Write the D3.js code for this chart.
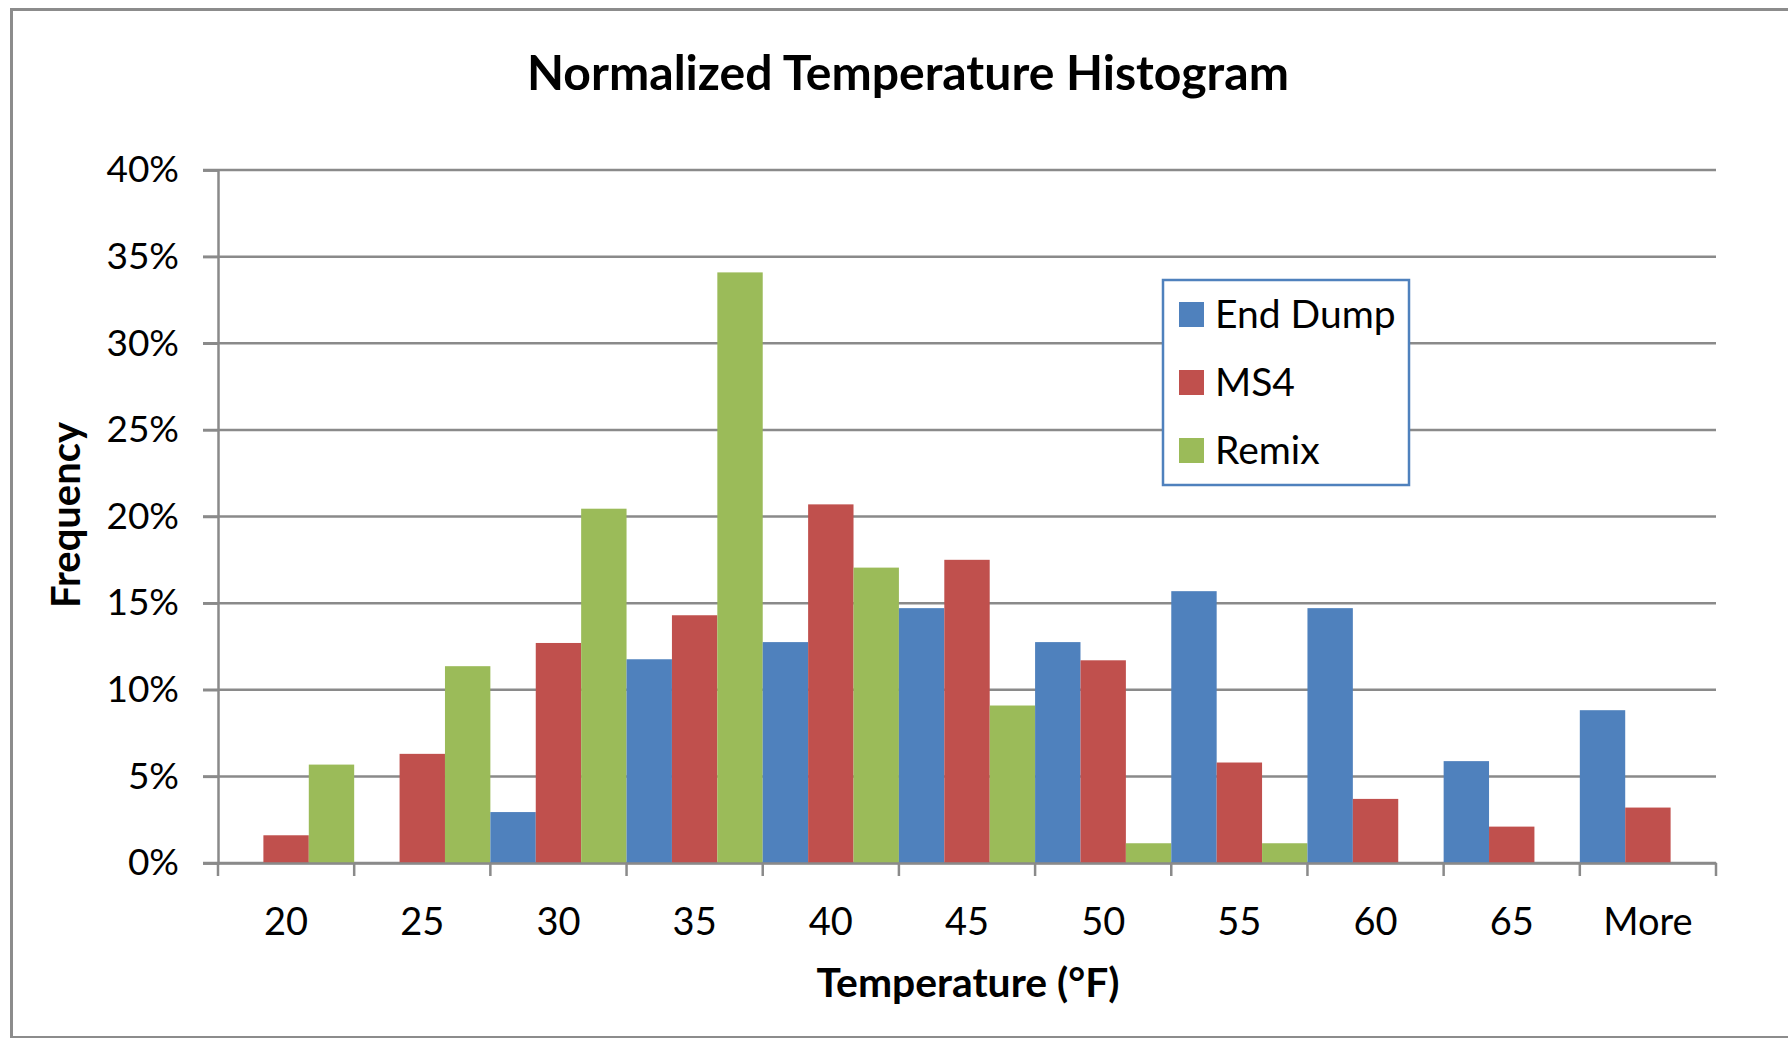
<!DOCTYPE html>
<html>
<head>
<meta charset="utf-8">
<script src="https://cdn.jsdelivr.net/npm/d3@7"></script>
<style>
  html, body { margin: 0; padding: 0; background: #fff; }
  svg { display: block; }
  text { font-family: Lato, "Open Sans", "Noto Sans", sans-serif; fill: #000; }
</style>
</head>
<body>
<svg id="chart" width="1788" height="1038"></svg>
<script>
// Temperature bins (upper edge, °F) and the share of readings falling in each.
const categories = ["20", "25", "30", "35", "40", "45", "50", "55", "60", "65", "More"];
const seriesNames = ["End Dump", "MS4", "Remix"];
const endDump = [0, 0, 0.0294, 0.1176, 0.1275, 0.1471, 0.1275, 0.1569, 0.1471, 0.0588, 0.0882];
const ms4     = [0.016, 0.063, 0.127, 0.143, 0.207, 0.175, 0.117, 0.058, 0.037, 0.021, 0.032];
const remix   = [0.0568, 0.1136, 0.2045, 0.3409, 0.1705, 0.0909, 0.0114, 0.0114, 0, 0, 0];
const yTicks  = [0, 0.05, 0.10, 0.15, 0.20, 0.25, 0.30, 0.35, 0.40];

const chartTitle = "Normalized Temperature Histogram";
const xTitle = "Temperature (°F)";
const yTitle = "Frequency";

const colors = { "End Dump": "#4F81BD", "MS4": "#C0504D", "Remix": "#9BBB59" };
const gridColor = "#8a8a8a";

const values = { "End Dump": endDump, "MS4": ms4, "Remix": remix };
const rows = categories.map((c, i) => ({
  cat: c,
  bars: seriesNames.map(s => ({ series: s, value: values[s][i] }))
}));

const svg = d3.select("#chart");

// Plot area
const plotLeft = 218, plotRight = 1716, plotTop = 170, plotBottom = 863;

const x = d3.scaleBand().domain(categories).range([plotLeft, plotRight]).paddingInner(0).paddingOuter(0);
const xs = d3.scaleBand().domain(seriesNames).range([0, x.bandwidth()]).padding(0);
const y = d3.scaleLinear().domain([0, 0.4]).range([plotBottom, plotTop]);

// Shrinks or grows a text's font size so it spans the given width.
function fitWidth(sel, target) {
  const node = sel.node();
  const fs = parseFloat(sel.attr("font-size"));
  const w = node.getComputedTextLength();
  if (w > 0) sel.attr("font-size", (fs * target / w).toFixed(2));
}

// Outer chart frame
svg.append("rect")
  .attr("x", 11.5).attr("y", 9.5)
  .attr("width", 1800).attr("height", 1028)
  .attr("fill", "#fff")
  .attr("stroke", "#8c8c8c").attr("stroke-width", 3);

// Horizontal gridlines (extend left as tick marks)
svg.append("g")
  .selectAll("line")
  .data(yTicks)
  .join("line")
  .attr("x1", plotLeft - 15).attr("x2", plotRight)
  .attr("y1", d => y(d)).attr("y2", d => y(d))
  .attr("stroke", gridColor).attr("stroke-width", 2.5);

// Y axis with percentage labels
const yAxis = svg.append("g")
  .attr("transform", `translate(${plotLeft},0)`)
  .call(d3.axisLeft(y).tickValues(yTicks).tickFormat(d3.format(".0%")).tickSize(15).tickPadding(24));
yAxis.select(".domain").attr("stroke", gridColor).attr("stroke-width", 2.5);
yAxis.selectAll(".tick line").attr("stroke", gridColor).attr("stroke-width", 2.5);
yAxis.selectAll(".tick text")
  .attr("font-size", 37)
  .attr("font-family", "Lato, 'Open Sans', sans-serif")
  .attr("fill", "#000");

// Bars
const groups = svg.append("g")
  .selectAll("g")
  .data(rows)
  .join("g")
  .attr("transform", d => `translate(${x(d.cat)},0)`);

groups.selectAll("rect")
  .data(d => d.bars)
  .join("rect")
  .attr("x", d => xs(d.series))
  .attr("width", xs.bandwidth())
  .attr("y", d => y(d.value))
  .attr("height", d => y(0) - y(d.value))
  .attr("fill", d => colors[d.series]);

// X axis: baseline, boundary ticks and centred bin labels
const xAxis = svg.append("g")
  .attr("transform", `translate(0,${plotBottom})`)
  .call(d3.axisBottom(x).tickSize(0).tickPadding(45));
xAxis.select(".domain").attr("stroke", gridColor).attr("stroke-width", 2.5);
xAxis.selectAll(".tick text")
  .attr("font-size", 38)
  .attr("font-family", "Lato, 'Open Sans', sans-serif")
  .attr("fill", "#000");

const edges = categories.map(c => x(c)).concat([x.range()[1]]);
svg.append("g")
  .selectAll("line")
  .data(edges)
  .join("line")
  .attr("x1", d => d).attr("x2", d => d)
  .attr("y1", plotBottom).attr("y2", plotBottom + 13)
  .attr("stroke", gridColor).attr("stroke-width", 2.5);

// Titles
const t = svg.append("text")
  .attr("x", 908).attr("y", 90)
  .attr("text-anchor", "middle")
  .attr("font-weight", "bold")
  .attr("font-size", 44)
  .text(chartTitle);
fitWidth(t, 762);

const xt = svg.append("text")
  .attr("x", 968).attr("y", 997)
  .attr("text-anchor", "middle")
  .attr("font-weight", "bold")
  .attr("font-size", 36)
  .text(xTitle);
fitWidth(xt, 303);

const yt = svg.append("text")
  .attr("transform", "translate(80,515) rotate(-90)")
  .attr("text-anchor", "middle")
  .attr("font-weight", "bold")
  .attr("font-size", 36)
  .text(yTitle);
fitWidth(yt, 186);

// Legend
const legend = svg.append("g");
legend.append("rect")
  .attr("x", 1163).attr("y", 280)
  .attr("width", 246).attr("height", 205)
  .attr("fill", "#fff")
  .attr("stroke", "#4F81BD").attr("stroke-width", 2.5);

const legendRows = [314, 382, 450];
const items = legend.selectAll("g.item")
  .data(seriesNames)
  .join("g")
  .attr("class", "item")
  .attr("transform", (d, i) => `translate(1179,${legendRows[i]})`);
items.append("rect")
  .attr("x", 0).attr("y", -12)
  .attr("width", 25).attr("height", 25)
  .attr("fill", d => colors[d]);
items.append("text")
  .attr("x", 36).attr("y", 0)
  .attr("dy", "0.36em")
  .attr("font-size", 39)
  .text(d => d);
</script>
</body>
</html>
